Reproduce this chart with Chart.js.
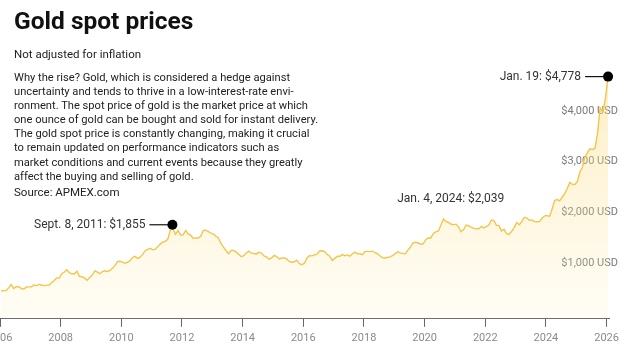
<!DOCTYPE html>
<html>
<head>
<meta charset="utf-8">
<script src="https://cdn.jsdelivr.net/npm/chart.js@4.4.1/dist/chart.umd.min.js"></script>
<style>
  html, body { margin: 0; padding: 0; background: #fff; width: 620px; height: 358px; overflow: hidden; position: relative; }
  #wrap { position: absolute; left: -40px; top: 0; width: 680px; height: 358px; }
  .t { position: absolute; left: 14px; color: #1a1a1a; font-family: Roboto, "Liberation Sans", sans-serif; white-space: nowrap; }
  #title { top: 6px; font-size: 24.5px; font-weight: 700; letter-spacing: 0; color: #111; }
  #sub { top: 47px; font-size: 11.5px; color: #222; }
  #body { top: 71px; font-size: 11.15px; line-height: 14.1px; color: #222; }
  #src { top: 185px; font-size: 11.5px; color: #222; }
</style>
</head>
<body>
<div id="wrap"><canvas id="c" width="680" height="358"></canvas></div>
<div class="t" id="title">Gold spot prices</div>
<div class="t" id="sub">Not adjusted for inflation</div>
<div class="t" id="body">Why the rise? Gold, which is considered a hedge against<br>uncertainty and tends to thrive in a low-interest-rate envi-<br>ronment. The spot price of gold is the market price at which<br>one ounce of gold can be bought and sold for instant delivery.<br>The gold spot price is constantly changing, making it crucial<br>to remain updated on performance indicators such as<br>market conditions and current events because they greatly<br>affect the buying and selling of gold.</div>
<div class="t" id="src">Source: APMEX.com</div>
<script>
// Monthly average gold spot price (USD/oz), Jan 2006 .. Dec 2025
const startYear = 2006;
const monthlyPrices = [
  549, 555, 557, 610, 676, 596, 633, 632, 598, 586, 628, 629,      // 2006
  631, 665, 655, 679, 667, 655, 665, 665, 712, 754, 806, 803,      // 2007
  889, 922, 968, 909, 888, 889, 940, 839, 829, 807, 760, 816,      // 2008
  858, 943, 924, 890, 928, 946, 934, 949, 996, 1043, 1127, 1135,   // 2009
  1118, 1095, 1113, 1148, 1205, 1233, 1193, 1215, 1271, 1343, 1370, 1391, // 2010
  1360, 1374, 1424, 1474, 1512, 1529, 1572, 1756, 1772, 1665, 1739, 1652, // 2011
  1656, 1742, 1673, 1650, 1585, 1596, 1594, 1626, 1744, 1747, 1721, 1688, // 2012
  1670, 1627, 1593, 1487, 1414, 1343, 1286, 1347, 1349, 1316, 1275, 1225, // 2013
  1244, 1300, 1336, 1299, 1287, 1280, 1311, 1296, 1239, 1223, 1176, 1201, // 2014
  1251, 1227, 1179, 1198, 1199, 1181, 1131, 1117, 1125, 1157, 1086, 1068, // 2015
  1097, 1200, 1246, 1242, 1260, 1276, 1337, 1341, 1326, 1267, 1236, 1152, // 2016
  1192, 1234, 1231, 1266, 1246, 1260, 1236, 1283, 1315, 1280, 1282, 1265, // 2017
  1331, 1331, 1325, 1335, 1303, 1282, 1238, 1202, 1199, 1215, 1221, 1250, // 2018
  1291, 1320, 1300, 1285, 1283, 1359, 1413, 1500, 1510, 1495, 1471, 1480, // 2019
  1560, 1597, 1591, 1683, 1716, 1732, 1846, 1968, 1921, 1900, 1866, 1858, // 2020
  1867, 1808, 1718, 1760, 1850, 1834, 1807, 1785, 1775, 1777, 1821, 1790, // 2021
  1817, 1856, 1948, 1937, 1849, 1837, 1733, 1765, 1681, 1665, 1726, 1798, // 2022
  1898, 1855, 1912, 2000, 1992, 1943, 1951, 1918, 1916, 1917, 1984, 2027, // 2023
  2034, 2025, 2160, 2331, 2351, 2326, 2398, 2470, 2571, 2690, 2651, 2648, // 2024
  2708, 2895, 2984, 3193, 3280, 3352, 3340, 3365, 3665, 4160, 4080, 4310  // 2025
];
// Annotated daily points
const noteDates  = ["2011-09-08", "2024-01-04", "2026-01-19"];
const noteValues = [1855, 2039, 4778];
const noteLabels = ["Sept. 8, 2011: $1,855", "Jan. 4, 2024: $2,039", "Jan. 19: $4,778"];
const noteDots   = [true, false, true];
// Axis ticks
const xTickYears = [2006, 2008, 2010, 2012, 2014, 2016, 2018, 2020, 2022, 2024, 2026];
const yTickValues = [1000, 2000, 3000, 4000];

function dateToYear(s) {
  const [y, m, d] = s.split("-").map(Number);
  const start = Date.UTC(y, 0, 1), end = Date.UTC(y + 1, 0, 1);
  return y + (Date.UTC(y, m - 1, d) - start) / (end - start);
}

const points = monthlyPrices.map((v, i) => ({ x: dateToYear(`${startYear + Math.floor(i / 12)}-${String(i % 12 + 1).padStart(2, "0")}-15`), y: v }));
noteDates.forEach((d, i) => points.push({ x: dateToYear(d), y: noteValues[i] }));
points.sort((a, b) => a.x - b.x);

const notePlugin = {
  id: "notes",
  afterDatasetsDraw(chart) {
    const { ctx, scales: { x, y } } = chart;
    ctx.save();
    ctx.font = "12px Roboto, sans-serif";
    ctx.fillStyle = "#333";
    ctx.strokeStyle = "#111";
    ctx.lineWidth = 1.2;
    noteDates.forEach((d, i) => {
      const px = x.getPixelForValue(dateToYear(d));
      const py = y.getPixelForValue(noteValues[i]);
      ctx.textAlign = "right";
      ctx.textBaseline = "middle";
      if (noteDots[i]) {
        ctx.beginPath();
        ctx.moveTo(px - 23, py);
        ctx.lineTo(px, py);
        ctx.stroke();
        ctx.beginPath();
        ctx.fillStyle = "#000";
        ctx.arc(px, py, 5, 0, Math.PI * 2);
        ctx.fill();
        ctx.fillStyle = "#333";
        ctx.fillText(noteLabels[i], px - 27, py);
      } else {
        ctx.fillText(noteLabels[i], px - 42, py - 16);
      }
    });
    ctx.restore();
  }
};

new Chart(document.getElementById("c"), {
  type: "line",
  data: {
    datasets: [{
      data: points,
      borderColor: "#f3c64b",
      borderWidth: 1.4,
      pointRadius: 0,
      tension: 0,
      fill: "origin",
      clip: false,
      backgroundColor(context) {
        const area = context.chart.chartArea;
        if (!area) return "rgba(250,220,130,0.3)";
        const g = context.chart.ctx.createLinearGradient(0, area.top, 0, area.bottom);
        g.addColorStop(0, "rgba(250,215,110,0.45)");
        g.addColorStop(0.6, "rgba(252,225,140,0.28)");
        g.addColorStop(1, "rgba(253,235,170,0.12)");
        return g;
      }
    }]
  },
  options: {
    responsive: false,
    animation: false,
    layout: { padding: { left: 40, right: 31, top: 40, bottom: 8 } },
    plugins: { legend: { display: false }, tooltip: { enabled: false } },
    scales: {
      x: {
        type: "linear",
        min: 2006,
        max: 2026.08,
        afterBuildTicks(scale) { scale.ticks = xTickYears.map(v => ({ value: v })); },
        grid: { display: true, drawOnChartArea: false, drawTicks: true, tickLength: 8, tickColor: "#666", lineWidth: 1 },
        border: { display: true, color: "#666", width: 1 },
        ticks: { color: "#8a8a8a", font: { family: "Roboto", size: 11 }, padding: 5, maxRotation: 0, callback: v => String(v) }
      },
      y: {
        position: "right",
        min: 0,
        max: 5500,
        z: 1,
        afterBuildTicks(scale) { scale.ticks = yTickValues.map(v => ({ value: v })); },
        afterFit(scale) { scale.width = 0; },
        grid: { display: false, drawTicks: false },
        border: { display: false },
        ticks: { mirror: true, padding: 9, labelOffset: -5, color: "#7a7a7a", font: { family: "Roboto", size: 11 },
          callback: v => "$" + v.toLocaleString("en-US") + " USD" }
      }
    }
  },
  plugins: [notePlugin]
});
</script>
</body>
</html>
